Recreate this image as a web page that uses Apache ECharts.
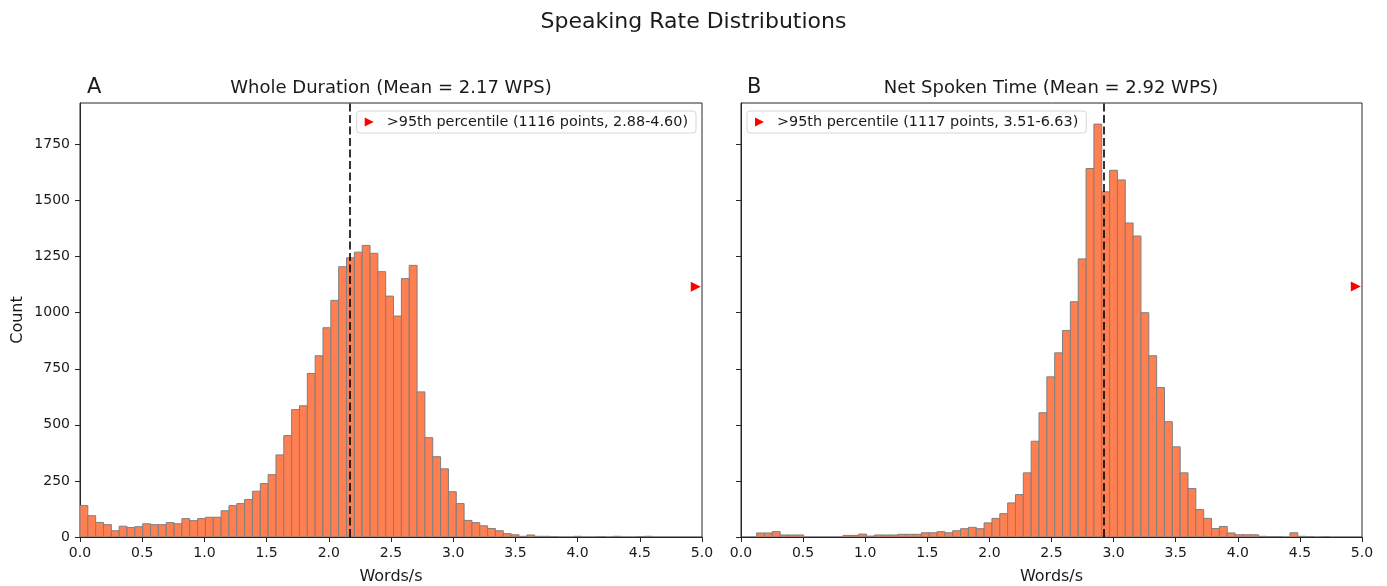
<!DOCTYPE html>
<html>
<head>
<meta charset="utf-8">
<script src="https://cdn.jsdelivr.net/npm/echarts@6/dist/echarts.min.js"></script>
<style>html,body{margin:0;padding:0;background:#fff}#c{width:1387px;height:586px}</style>
</head>
<body>
<div id="c"></div>
<script>
// ---- Data ----
const suptitle = 'Speaking Rate Distributions';
const titleA = 'Whole Duration (Mean = 2.17 WPS)';
const titleB = 'Net Spoken Time (Mean = 2.92 WPS)';
const meanA = 2.17;
const meanB = 2.92;
const legendA = '>95th percentile (1116 points, 2.88-4.60)';
const legendB = '>95th percentile (1117 points, 3.51-6.63)';
const outlierA = [4.95, 1116];
const outlierB = [4.95, 1117];
const leftBinStart = 0.0;
const leftBinWidth = 4.60 / 73;
const rightBinStart = 0.126;
const rightBinWidth = 0.06315;
const leftCounts = [140,95,65,55,28,48,42,46,59,55,55,64,59,82,73,82,88,88,117,140,
  149,167,204,238,278,366,452,568,585,729,808,933,1055,1205,1245,1270,1300,1265,1183,1074,
  985,1152,1211,647,443,358,304,202,149,74,64,50,38,28,15,10,3,9,3,3,
  2,0,0,3,0,0,2,0,3,0,0,2,3];
const rightCounts = [18,18,24,9,9,9,0,0,0,0,0,7,7,13,4,9,9,9,12,12,
  12,19,19,24,19,28,37,43,37,63,83,104,152,189,286,427,554,714,821,921,
  1049,1240,1643,1841,1539,1635,1592,1400,1342,1000,808,666,514,402,286,216,122,83,38,47,
  18,10,10,10,3,2,2,0,19,3,2,0,2];
const xTicks = [0,0.5,1,1.5,2,2.5,3,3.5,4,4.5,5];
const yTicks = [0,250,500,750,1000,1250,1500,1750];

// ---- Build ----
function bins(start, width, counts) {
  return counts.map((c, i) => [start + i * width, start + (i + 1) * width, c]);
}
const FONT = 'DejaVu Sans';
const TXT = '#1a1a1a';
const AX = '#262626';
const triPath = 'path://M0,0L10,5L0,10Z';

function renderBar(params, api) {
  const y = api.value(2);
  if (!y) return null;
  const p0 = api.coord([api.value(0), y]);
  const p1 = api.coord([api.value(1), 0]);
  return {
    type: 'rect',
    shape: { x: p0[0], y: p0[1], width: p1[0] - p0[0], height: p1[1] - p0[1] },
    style: { fill: '#FF7F50', stroke: '#7f7f7f', lineWidth: 1 }
  };
}

function xAxisCfg(idx) {
  return {
    type: 'value', gridIndex: idx, min: 0, max: 5, interval: 0.5,
    name: 'Words/s', nameLocation: 'middle', nameGap: 32,
    nameTextStyle: { fontFamily: FONT, fontSize: 16, color: TXT },
    axisLine: { show: true, onZero: false, lineStyle: { color: AX, width: 1 } },
    axisTick: { show: true, length: 5, lineStyle: { color: AX } },
    axisLabel: { fontFamily: FONT, fontSize: 14, color: TXT, margin: 9,
      customValues: xTicks, formatter: v => v.toFixed(1) },
    splitLine: { show: false }
  };
}
function yAxisCfg(idx, showLabels) {
  return {
    type: 'value', gridIndex: idx, min: 0, max: 1935,
    name: showLabels ? 'Count' : '', nameLocation: 'middle', nameGap: 54,
    nameTextStyle: { fontFamily: FONT, fontSize: 16, color: TXT },
    axisLine: { show: true, lineStyle: { color: AX, width: 1 } },
    axisTick: { show: true, length: 5, lineStyle: { color: AX }, customValues: yTicks },
    axisLabel: { show: showLabels, fontFamily: FONT, fontSize: 14, color: TXT, margin: 10,
      customValues: yTicks, formatter: v => String(v) },
    splitLine: { show: false }
  };
}
function legendCfg(name, pos) {
  return Object.assign({
    data: [{ name: name, icon: triPath }],
    top: 111, orient: 'vertical',
    itemWidth: 25, itemHeight: 9,
    backgroundColor: '#fff', borderColor: '#d6d6d6', borderWidth: 1, borderRadius: 3,
    padding: [4, 8, 4, 8],
    textStyle: { fontFamily: FONT, fontSize: 14.4, color: TXT },
    selectedMode: false
  }, pos);
}
function meanLine(v) {
  return {
    symbol: 'none', silent: true, animation: false,
    label: { show: false },
    lineStyle: { color: '#000', type: [8, 3.5], width: 1.6 },
    data: [{ xAxis: v }]
  };
}

const option = {
  animation: false,
  backgroundColor: '#fff',
  title: [
    { text: suptitle, left: 'center', top: 11, padding: 0,
      textStyle: { fontFamily: FONT, fontSize: 22, fontWeight: 'normal', color: TXT } },
    { text: titleA, left: 391, textAlign: 'center', top: 79, padding: 0,
      textStyle: { fontFamily: FONT, fontSize: 18, fontWeight: 'normal', color: TXT } },
    { text: titleB, left: 1051, textAlign: 'center', top: 79, padding: 0,
      textStyle: { fontFamily: FONT, fontSize: 18, fontWeight: 'normal', color: TXT } },
    { text: 'A', left: 87, top: 77, padding: 0,
      textStyle: { fontFamily: FONT, fontSize: 21, fontWeight: 'normal', color: TXT } },
    { text: 'B', left: 747, top: 77, padding: 0,
      textStyle: { fontFamily: FONT, fontSize: 21, fontWeight: 'normal', color: TXT } }
  ],
  grid: [
    { left: 80, right: 685, top: 103, bottom: 49, show: true, borderColor: AX, borderWidth: 1,
      backgroundColor: 'transparent', containLabel: false, outerBoundsMode: 'none' },
    { left: 741, right: 25, top: 103, bottom: 49, show: true, borderColor: AX, borderWidth: 1,
      backgroundColor: 'transparent', containLabel: false, outerBoundsMode: 'none' }
  ],
  xAxis: [xAxisCfg(0), xAxisCfg(1)],
  yAxis: [yAxisCfg(0, true), yAxisCfg(1, false)],
  legend: [
    legendCfg(legendA, { right: 691 }),
    legendCfg(legendB, { left: 747 })
  ],
  series: [
    { type: 'custom', name: 'histA', xAxisIndex: 0, yAxisIndex: 0, clip: true,
      renderItem: renderBar, encode: { x: [0, 1], y: 2 },
      data: bins(leftBinStart, leftBinWidth, leftCounts), markLine: meanLine(meanA) },
    { type: 'custom', name: 'histB', xAxisIndex: 1, yAxisIndex: 1, clip: true,
      renderItem: renderBar, encode: { x: [0, 1], y: 2 },
      data: bins(rightBinStart, rightBinWidth, rightCounts), markLine: meanLine(meanB) },
    { type: 'scatter', name: legendA, xAxisIndex: 0, yAxisIndex: 0,
      symbol: triPath, symbolSize: 10, itemStyle: { color: '#ff0000', opacity: 1 },
      data: [outlierA], z: 5 },
    { type: 'scatter', name: legendB, xAxisIndex: 1, yAxisIndex: 1,
      symbol: triPath, symbolSize: 10, itemStyle: { color: '#ff0000', opacity: 1 },
      data: [outlierB], z: 5 }
  ]
};
const chart = echarts.init(document.getElementById('c'), null, { renderer: 'canvas' });
chart.setOption(option);
</script>
</body>
</html>
